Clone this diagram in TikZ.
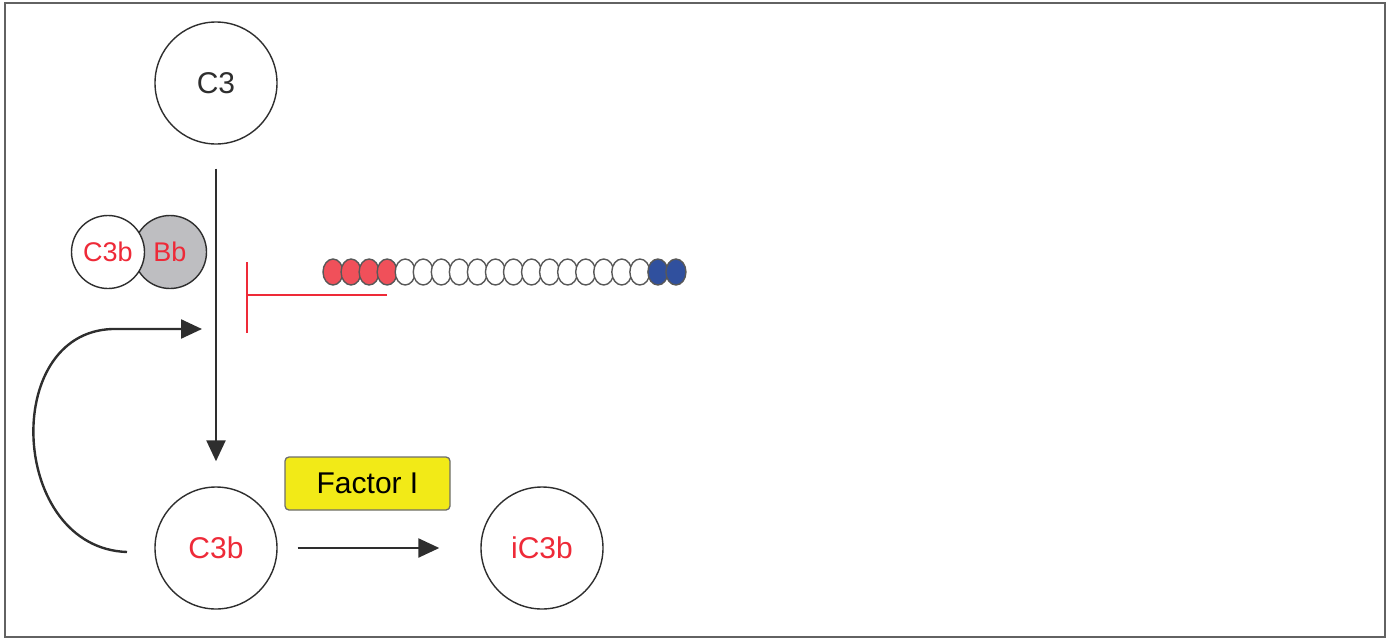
\documentclass[tikz,border=0pt]{standalone}
\usepackage{fontspec}
\setmainfont{Liberation Sans}
\usetikzlibrary{arrows.meta,shapes.geometric}
\definecolor{ink}{HTML}{2E2E2E}
\definecolor{rtext}{HTML}{EE2A38}
\definecolor{beadred}{HTML}{F0505A}
\definecolor{beadblue}{HTML}{30509E}
\definecolor{bbgray}{HTML}{BEBEC1}
\definecolor{fyellow}{HTML}{F2EA17}
\tikzset{
  molecule/.style={circle, draw=ink, line width=1.4pt, fill=white, minimum size=122pt, inner sep=0pt,
    font=\fontsize{30}{34}\selectfont},
  smallmol/.style={circle, draw=ink, line width=1.4pt, minimum size=73pt, inner sep=0pt,
    font=\fontsize{27}{30}\selectfont, text=rtext},
  bead/.style={ellipse, draw=ink!80, line width=1.4pt, minimum width=20pt, minimum height=26pt, inner sep=0pt},
  flow/.style={draw=ink, line width=2.4pt, -{Triangle[length=21pt,width=19pt]}},
  inhib/.style={draw=rtext, line width=1.8pt},
  enzyme/.style={rectangle, rounded corners=4pt, draw=ink!70, line width=1.3pt, fill=fyellow,
    minimum width=165pt, minimum height=53pt, font=\fontsize{30}{34}\selectfont}
}
\begin{document}
\begin{tikzpicture}[x=1pt,y=-1pt]
  \useasboundingbox (0,0) rectangle (1387,640);
  % outer frame
  \draw[draw=ink!75, line width=2.5pt] (5,3) rectangle (1385,637);

  % main species
  \node[molecule, text=ink] (c3) at (216,83) {C3};
  \node[molecule, text=rtext] (c3b) at (216,548) {C3b};
  \node[molecule, text=rtext] (ic3b) at (542,548) {iC3b};

  % C3 convertase C3bBb
  \node[smallmol, fill=bbgray] (bb) at (170,252) {Bb};
  \node[smallmol, fill=white] (cc3b) at (108,252) {C3b};

  % cleavage of C3 into C3b
  \draw[flow, shorten <=24pt, shorten >=25pt] (c3) -- (c3b);
  \coordinate (fb) at (216,329);
  \coordinate (fbstart) at (127,552);
  \coordinate (fbtop) at (112,329);
  \draw[flow, shorten >=14pt] (fbstart) .. controls (10,548) and (0,333) .. (fbtop) -- (fb);

  % regulator chain of short consensus repeats
  \foreach \i in {0,...,19} {
    \pgfmathsetmacro{\bx}{333+18.05*\i}
    \ifnum\i<4
      \node[bead, fill=beadred] (sc\i) at (\bx,272) {};
    \else\ifnum\i>17
      \node[bead, fill=beadblue] (sc\i) at (\bx,272) {};
    \else
      \node[bead, fill=white] (sc\i) at (\bx,272) {};
    \fi\fi
  }

  % inhibition of the convertase by the regulator
  \coordinate (bartop) at (247,262);
  \coordinate (barbot) at (247,333);
  \coordinate (barmid) at (247,295);
  \draw[inhib] (bartop) -- (barbot);
  \draw[inhib] (sc3.center |- barmid) -- (barmid);

  % Factor I cleavage
  \node[enzyme] (fi) at (367.5,483.5) {Factor I};
  \draw[flow, shorten <=20pt, shorten >=41pt] (c3b) -- (ic3b);
\end{tikzpicture}
\end{document}
